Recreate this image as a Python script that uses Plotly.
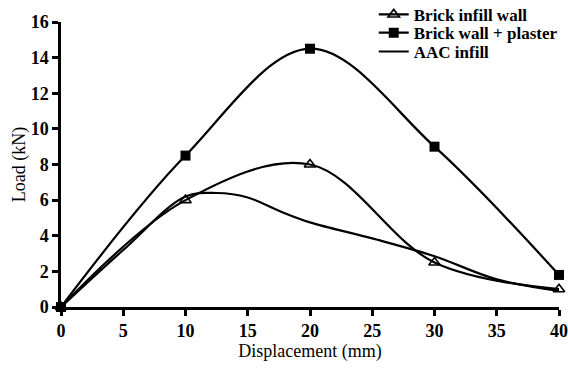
import plotly.graph_objects as go

# Load–displacement data for three wall types
disp_brick = [0, 10, 20, 30, 40]
load_brick_infill = [0, 6.0, 8.0, 2.5, 1.0]
load_brick_plaster = [0, 8.5, 14.5, 9.0, 1.8]

disp_aac = [0, 5, 10, 12.5, 15, 17.5, 20, 25, 30, 35, 40]
load_aac = [0, 3.2, 6.2, 6.4, 6.15, 5.4, 4.75, 3.85, 2.85, 1.55, 0.9]

x_ticks = [0, 5, 10, 15, 20, 25, 30, 35, 40]
y_ticks = [0, 2, 4, 6, 8, 10, 12, 14, 16]

FONT = "Times New Roman, Liberation Serif, serif"
LEG_FONT = dict(family=FONT, size=17, color="black", weight="bold")

fig = go.Figure()

fig.add_trace(go.Scatter(
    x=disp_brick, y=load_brick_infill, name="Brick infill wall",
    mode="lines+markers", legend="legend",
    line=dict(color="black", width=2.2, shape="spline", smoothing=1.0),
    marker=dict(symbol="triangle-up-open", size=10, color="black",
                line=dict(width=1.6, color="black")),
    cliponaxis=False,
))
fig.add_trace(go.Scatter(
    x=disp_brick, y=load_brick_plaster, name="Brick wall + plaster",
    mode="lines+markers", legend="legend2",
    line=dict(color="black", width=2.2, shape="spline", smoothing=1.0),
    marker=dict(symbol="square", size=10, color="black"),
    cliponaxis=False,
))
fig.add_trace(go.Scatter(
    x=disp_aac, y=load_aac, name="AAC infill",
    mode="lines", legend="legend3",
    line=dict(color="black", width=2.2, shape="spline", smoothing=1.0),
    cliponaxis=False,
))

legend_common = dict(x=0.628, xanchor="left", yanchor="middle",
                     bgcolor="rgba(0,0,0,0)", font=LEG_FONT, itemwidth=30)

fig.update_layout(
    template="none",
    width=568, height=369,
    margin=dict(l=61, r=9, t=22, b=62, autoexpand=False),
    paper_bgcolor="white", plot_bgcolor="white",
    font=dict(family=FONT, color="black", size=16),
    showlegend=True,
    legend=dict(y=1.025, **legend_common),
    legend2=dict(y=0.961, **legend_common),
    legend3=dict(y=0.895, **legend_common),
    xaxis=dict(
        range=[0, 40], tickvals=x_ticks, ticktext=[str(v) for v in x_ticks],
        showgrid=False, zeroline=False,
        showline=True, linecolor="black", linewidth=2.5,
        ticks="outside", ticklen=6, tickwidth=2.5, tickcolor="black",
        tickfont=dict(family=FONT, size=18, color="black", weight="bold"),
        title=dict(text="Displacement (mm)",
                   font=dict(family=FONT, size=18, color="black"),
                   standoff=2),
    ),
    yaxis=dict(
        range=[0, 16], tickvals=y_ticks, ticktext=[str(v) for v in y_ticks],
        showgrid=False, zeroline=False,
        showline=True, linecolor="black", linewidth=2.5,
        ticks="outside", ticklen=6, tickwidth=2.5, tickcolor="black",
        tickfont=dict(family=FONT, size=18, color="black", weight="bold"),
        title=dict(text="Load (kN)",
                   font=dict(family=FONT, size=18, color="black"),
                   standoff=1),
    ),
)

fig.write_html("out.html")
